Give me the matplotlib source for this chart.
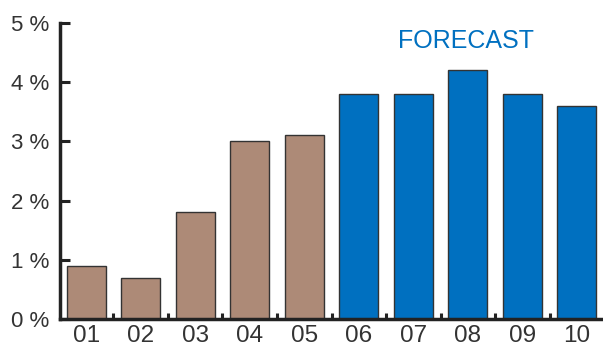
import numpy as np
import matplotlib
matplotlib.use("Agg")
import matplotlib.pyplot as plt
from matplotlib.ticker import FixedLocator

# Annual growth, actual years then forecast
categories = ["01", "02", "03", "04", "05", "06", "07", "08", "09", "10"]
values = [0.9, 0.7, 1.8, 3.0, 3.1, 3.8, 3.8, 4.2, 3.8, 3.6]
n_actual = 5
y_ticks = [0, 1, 2, 3, 4, 5]

brown = "#AD8A77"
blue = "#0070C0"
dark = "#222222"

plt.rcParams["font.family"] = ["Liberation Sans", "DejaVu Sans"]

fig = plt.figure(figsize=(6.03, 3.44), dpi=100)
ax = fig.add_axes([60 / 603, 25 / 344, 543 / 603, 296 / 344])

x = np.arange(len(categories))
colors = [brown if i < n_actual else blue for i in range(len(categories))]
ax.bar(x, values, width=0.72, color=colors, edgecolor="#333333", linewidth=1.0, zorder=2)

ax.set_xlim(-0.48, 9.48)
ax.set_ylim(0, 5)

ax.set_yticks(y_ticks)
ax.set_yticklabels([f"{v} %" for v in y_ticks])
ax.set_xticks(x)
ax.set_xticklabels(categories)
ax.xaxis.set_minor_locator(FixedLocator(x[:-1] + 0.5))

ax.tick_params(axis="y", direction="in", length=7, width=2.2, color=dark,
               labelsize=16, labelcolor="#333333", pad=8)
ax.tick_params(axis="x", which="major", length=0, labelsize=17.5,
               labelcolor="#333333", pad=4)
ax.tick_params(axis="x", which="minor", direction="in", length=4, width=2.2, color=dark)

for side in ("top", "right"):
    ax.spines[side].set_visible(False)
for side in ("left", "bottom"):
    ax.spines[side].set_linewidth(2.5)
    ax.spines[side].set_color(dark)
    ax.spines[side].set_zorder(3)

ax.text(6.96, 4.7, "FORECAST", color=blue, fontsize=18, ha="center", va="center")

fig.savefig("out.png", dpi=100)
